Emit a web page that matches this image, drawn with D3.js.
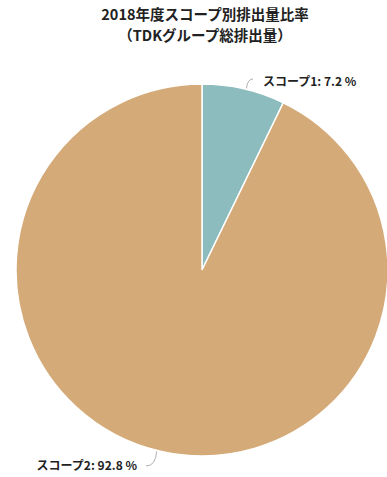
<!DOCTYPE html>
<html><head><meta charset="utf-8">
<script src="https://cdn.jsdelivr.net/npm/d3@7"></script>
<style>body{margin:0;background:#fff;}</style>
</head><body>
<svg id="c" width="387" height="477"></svg>
<script>
const categories = ["スコープ1", "スコープ2"];
const values = [7.2, 92.8];
const colors = ["#8cbcbd", "#d4aa78"];
const titleLines = ["2018年度スコープ別排出量比率", "（TDKグループ総排出量）"];

const svg = d3.select("#c");
const font = "'Noto Sans CJK JP', 'Noto Sans', sans-serif";
const cx = 202, cy = 270, r = 186;

svg.selectAll("text.title").data(titleLines).join("text")
  .attr("class","title")
  .attr("x", 205).attr("y", (d,i)=> 20 + i*21)
  .attr("text-anchor","middle")
  .attr("font-family", font).attr("font-weight","bold").attr("font-size", 14.5)
  .attr("fill","#222").text(d=>d);

const pie = d3.pie().sort(null).value(d=>d);
const arcs = pie(values);
const arc = d3.arc().innerRadius(0).outerRadius(r);
const g = svg.append("g").attr("transform",`translate(${cx},${cy})`);
g.selectAll("path").data(arcs).join("path")
  .attr("d", arc).attr("fill",(d,i)=>colors[i])
  .attr("stroke","#fff").attr("stroke-width",1.5);

// labels
const labelPos = [
  {dx: 61, dy: -184, anchor:"start", a0: 0.24, p1: [51, -191]},
  {dx: -65, dy: 200, anchor:"end", a0: Math.PI + 0.245, p1: [-56, 196]}
];
arcs.forEach((a,i)=>{
  const lp = labelPos[i];
  const p0 = [Math.sin(lp.a0)*(r+1), -Math.cos(lp.a0)*(r+1)];
  const p1 = lp.p1;
  const ctrl = i===0 ? [p0[0]+1, p1[1]] : [p0[0]-1, p1[1]];
  g.append("path")
    .attr("d", `M${p0[0]},${p0[1]} Q${ctrl[0]},${ctrl[1]} ${p1[0]},${p1[1]}`)
    .attr("fill","none").attr("stroke","#999").attr("stroke-width",0.8);
  g.append("text")
    .attr("x", lp.dx).attr("y", lp.dy)
    .attr("text-anchor", lp.anchor)
    .attr("font-family", font).attr("font-weight","bold").attr("font-size", 12)
    .attr("fill","#222")
    .text(`${categories[i]}: ${values[i].toFixed(1)} %`);
});
</script>
</body></html>
